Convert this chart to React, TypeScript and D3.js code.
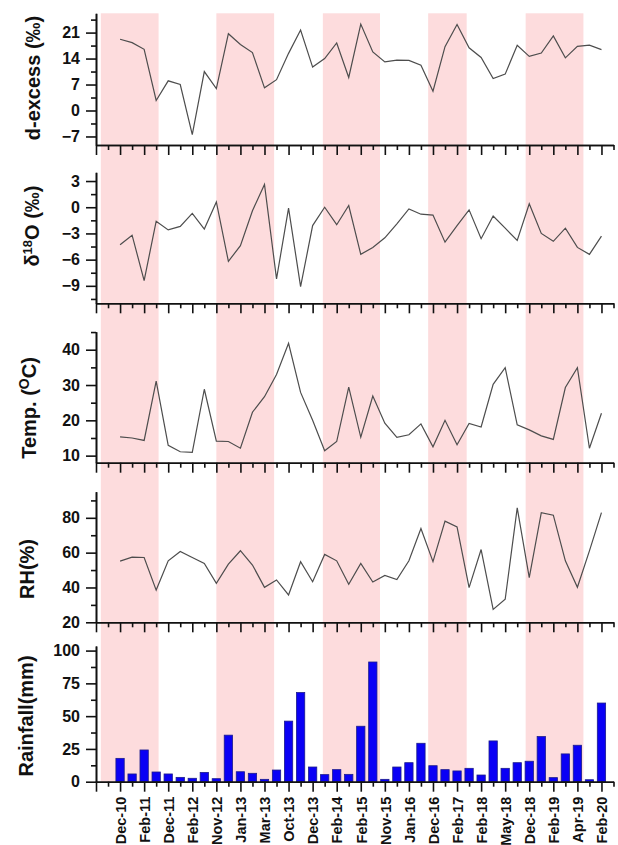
import React, { useEffect, useRef } from "react";
import * as d3 from "d3";

// sampling dates, one label every second sample
const xLabels = [
  "Dec-10", "Feb-11", "Dec-11", "Feb-12", "Nov-12", "Jan-13", "Mar-13",
  "Oct-13", "Dec-13", "Feb-14", "Feb-15", "Nov-15", "Jan-16", "Dec-16",
  "Feb-17", "Feb-18", "May-18", "Dec-18", "Feb-19", "Apr-19", "Feb-20"
];

// 41 samples per series
const dExcess = [
  19.2, 18.3, 16.5, 2.7, 8.0, 7.0, -6.5, 10.5, 5.9, 20.7, 17.8, 15.6, 6.1, 8.3,
  15.4, 21.7, 11.7, 14.0, 18.2, 8.9, 23.3, 15.8, 13.1, 13.6, 13.5, 12.2, 5.2,
  17.2, 23.2, 16.9, 14.3, 8.6, 9.8, 17.6, 14.6, 15.5, 20.1, 14.2, 17.3, 17.6, 16.4
];
const d18O = [
  -4.3, -3.2, -8.4, -1.6, -2.6, -2.2, -0.7, -2.5, 0.6, -6.2, -4.4, -0.4, 2.6,
  -8.2, -0.1, -9.1, -2.1, 0.0, -2.0, 0.2, -5.4, -4.6, -3.5, -1.9, -0.2, -0.8,
  -0.9, -4.0, -2.1, -0.3, -3.6, -1.0, -2.4, -3.8, 0.4, -3.0, -3.9, -2.4, -4.6,
  -5.4, -3.3
];
const temp = [
  15.3, 15.0, 14.3, 31.1, 12.9, 11.1, 10.9, 28.8, 14.1, 14.0, 12.1, 22.3, 26.7,
  33.0, 41.8, 27.9, 20.0, 11.4, 14.0, 29.4, 15.2, 26.9, 19.2, 15.2, 15.9, 19.0,
  12.5, 20.0, 13.1, 19.1, 18.1, 30.2, 34.9, 18.7, 17.3, 15.6, 14.6, 29.3, 34.9,
  12.1, 22.0
];
const rh = [
  55.1, 57.4, 57.2, 38.5, 55.3, 60.7, 57.2, 53.8, 42.4, 53.4, 61.1, 52.9, 40.1,
  44.3, 35.7, 54.8, 43.3, 59.0, 55.3, 41.8, 53.8, 43.1, 46.9, 44.6, 55.3, 73.9,
  54.8, 78.1, 74.8, 39.9, 61.8, 27.4, 33.2, 85.7, 45.6, 83.0, 81.5, 55.3, 40.1,
  61.0, 83.0
];
const rainfall = [
  17.8, 5.9, 24.2, 7.4, 5.9, 3.3, 2.6, 7.1, 2.3, 35.5, 7.6, 6.4, 1.8, 8.9,
  46.2, 68, 11.2, 5.4, 9.2, 5.6, 42.3, 91.3, 1.8, 11.2, 14.5, 29.3, 12.2, 9.2,
  8.2, 10.2, 5.1, 31.1, 10.2, 14.5, 15.6, 34.4, 3.1, 21.2, 27.8, 1.5, 60
];

// shaded seasons, in sample-index units
const seasonBands = [
  [-1.6, 3.2],
  [8, 12.8],
  [16.85, 21.6],
  [25.6, 28.8],
  [33.7, 38.5]
];

// y tick labels per panel
const dExcessTicks = [-7, 0, 7, 14, 21];
const d18OTicks = [-9, -6, -3, 0, 3];
const tempTicks = [10, 20, 30, 40];
const rhTicks = [20, 40, 60, 80];
const rainTicks = [0, 25, 50, 75, 100];

const FONT = "'Liberation Sans', Arial, sans-serif";

const App = () => {
  const svgRef = useRef(null);

  useEffect(() => {
    const width = 618;
    const height = 845;

    const svg = d3.select(svgRef.current);
    svg.selectAll("*").remove();

    const idx = d3.range(dExcess.length);

    // shared x scale (sample index)
    const x = d3.scaleLinear().domain([-2, 41]).range([96, 613.5]);

    // panel layout
    const panels = [
      { values: dExcess, domain: [-9.3, 26.2], top: 13.3, bottom: 145, ticks: dExcessTicks, title: "dex", tx: 33, ty: 78 },
      { values: d18O, domain: [-11, 4], top: 172.3, bottom: 303.3, ticks: d18OTicks, title: "d18o", tx: 32, ty: 226 },
      { values: temp, domain: [8, 45.1], top: 331.7, bottom: 462.7, ticks: tempTicks, title: "temp", tx: 29, ty: 408 },
      { values: rh, domain: [20, 95], top: 491.7, bottom: 622.3, ticks: rhTicks, title: "rh", tx: 27, ty: 569 },
      { values: rainfall, domain: [0, 103.5], top: 646, bottom: 781.7, ticks: rainTicks, title: "rain", tx: 26, ty: 716, bars: true }
    ];

    // ---- pink season bands, across all panels
    svg
      .append("g")
      .selectAll("rect")
      .data(seasonBands)
      .join("rect")
      .attr("x", d => x(d[0]))
      .attr("width", d => x(d[1]) - x(d[0]))
      .attr("y", 13.3)
      .attr("height", 781.7 - 13.3)
      .attr("fill", "#fddcdd");

    const majorX = d3.range(-2, 42, 2);
    const minorX = d3.range(-1, 42, 2);

    panels.forEach((p, pi) => {
      const y = d3.scaleLinear().domain(p.domain).range([p.bottom, p.top]);
      const g = svg.append("g");

      // data marks
      if (p.bars) {
        const bw = (x(1) - x(0)) * 0.69;
        g.selectAll("rect")
          .data(idx)
          .join("rect")
          .attr("x", i => x(i) - bw / 2)
          .attr("width", bw)
          .attr("y", i => y(p.values[i]))
          .attr("height", i => y(0) - y(p.values[i]))
          .attr("fill", "#0a00f5")
          .attr("stroke", "#1c1c8c")
          .attr("stroke-width", 0.8);
      } else {
        const line = d3
          .line()
          .x(i => x(i))
          .y(i => y(p.values[i]));
        g.append("path")
          .datum(idx)
          .attr("d", line)
          .attr("fill", "none")
          .attr("stroke", "#4d4d4d")
          .attr("stroke-width", 1.2);
      }

      // minor y ticks halfway between labels
      const step = p.ticks[1] - p.ticks[0];
      const minorY = d3
        .range(p.ticks[0] - step / 2, p.domain[1], step)
        .filter(v => v >= p.domain[0] && v <= p.domain[1]);

      // x axis (bottom of each panel)
      const xMinor = g.append("g")
        .attr("transform", `translate(0,${p.bottom})`)
        .call(d3.axisBottom(x).tickValues(minorX).tickSize(5).tickSizeOuter(0).tickFormat(() => ""));
      const xMajor = g.append("g")
        .attr("transform", `translate(0,${p.bottom})`)
        .call(
          d3.axisBottom(x)
            .tickValues(majorX)
            .tickSize(10)
            .tickSizeOuter(0)
            .tickPadding(5)
            .tickFormat(v => (pi === 4 && v >= 0 ? xLabels[v / 2] : ""))
        );

      // y axis
      const yMinor = g.append("g")
        .attr("transform", `translate(${x(-2)},0)`)
        .call(d3.axisLeft(y).tickValues(minorY).tickSize(5).tickSizeOuter(0).tickFormat(() => ""));
      const yMajor = g.append("g")
        .attr("transform", `translate(${x(-2)},0)`)
        .call(d3.axisLeft(y).tickValues(p.ticks).tickSize(10).tickSizeOuter(0).tickPadding(6));

      [xMinor, xMajor, yMinor, yMajor].forEach(a => {
        a.selectAll("path, line").attr("stroke", "#111").attr("stroke-width", 1.6);
        a.selectAll("text")
          .attr("fill", "#111")
          .style("font-family", FONT)
          .style("font-weight", "bold")
          .style("font-size", "16px");
      });

      if (pi === 4) {
        xMajor.selectAll("text")
          .style("font-size", "14.5px")
          .attr("transform", "rotate(-90)")
          .attr("text-anchor", "end")
          .attr("x", -15)
          .attr("y", 0)
          .attr("dy", "0.36em");
      }

      // panel title, rotated
      const t = svg.append("text")
        .attr("transform", `translate(${p.tx},${p.ty}) rotate(-90)`)
        .attr("text-anchor", "middle")
        .attr("dy", "0.36em")
        .attr("fill", "#111")
        .style("font-family", FONT)
        .style("font-weight", "bold")
        .style("font-size", "20px");

      if (p.title === "dex") t.text("d-excess (‰)");
      if (p.title === "d18o") {
        t.append("tspan").text("δ");
        t.append("tspan").attr("dy", -7).style("font-size", "13px").text("18");
        t.append("tspan").attr("dy", 7).text("O (‰)");
      }
      if (p.title === "temp") {
        t.append("tspan").text("Temp. (");
        t.append("tspan").attr("dy", -7).style("font-size", "14px").text("O");
        t.append("tspan").attr("dy", 7).text("C)");
      }
      if (p.title === "rh") t.text("RH(%)");
      if (p.title === "rain") t.text("Rainfall(mm)");
    });

    svg.attr("width", width).attr("height", height);
  }, []);

  return (
    <svg
      ref={svgRef}
      width={618}
      height={845}
      style={{ position: "absolute", left: 0, top: 0, background: "#fff" }}
    />
  );
};

export default App;
